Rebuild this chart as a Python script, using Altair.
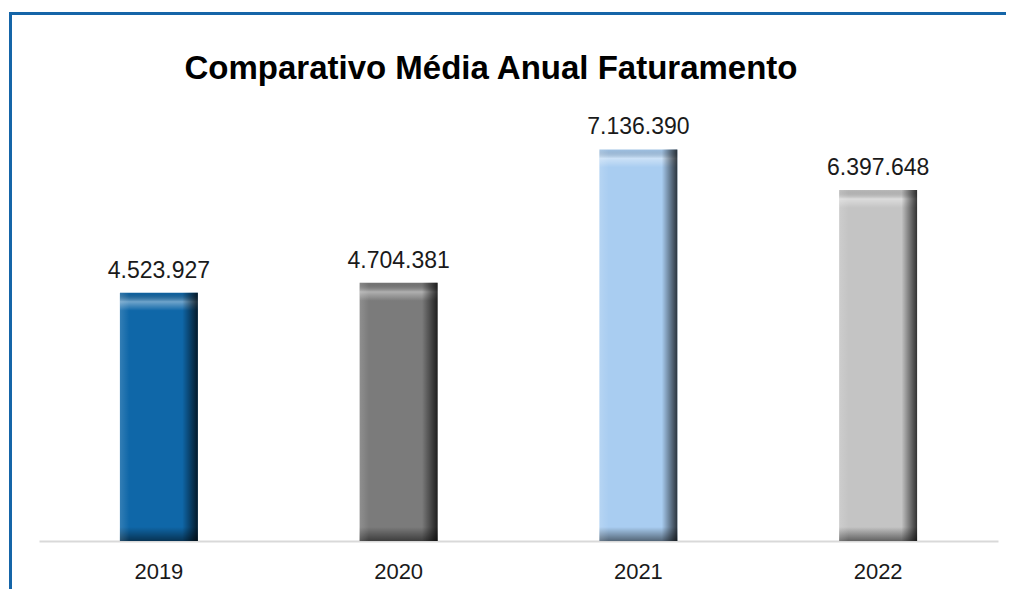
import altair as alt
import pandas as pd

years = ["2019", "2020", "2021", "2022"]
values = [4523927, 4704381, 7136390, 6397648]
colors = ["#0f67a8", "#7b7b7b", "#a9cdf1", "#c4c4c4"]
title_text = "Comparativo Média Anual Faturamento"

df = pd.DataFrame({
    "year": years,
    "value": values,
    "zero": [0] * len(years),
    "label": [f"{v:,}".replace(",", ".") for v in values],
})
single = pd.DataFrame({"t": [title_text]})

W, H = 959, 439
FONT = "Liberation Sans"

x = alt.X("year:N", sort=years,
          scale=alt.Scale(paddingInner=0.675, paddingOuter=0.3375),
          axis=alt.Axis(title=None, labelAngle=0, ticks=False, domainColor="#d9d9d9",
                        domainWidth=2, labelFont=FONT, labelFontSize=22,
                        labelColor="#1a1a1a", labelPadding=37,
                        labelBaseline="alphabetic"))
y_scale = alt.Scale(domain=[0, 8000000])
y = alt.Y("value:Q", scale=y_scale, axis=None)

base = alt.Chart(df)

bars = base.mark_bar().encode(
    x=x, y=y,
    color=alt.Color("year:N", scale=alt.Scale(domain=years, range=colors), legend=None),
)

top_bevel = base.mark_bar(
    y2Offset=18,
    color=alt.Gradient(gradient="linear", x1=0, x2=0, y1=0, y2=1, stops=[
        alt.GradientStop(offset=0, color="rgba(0,0,0,0.05)"),
        alt.GradientStop(offset=0.5, color="rgba(255,255,255,0.4)"),
        alt.GradientStop(offset=1, color="rgba(255,255,255,0)"),
    ]),
).encode(x=x, y=y, y2=alt.Y2("value:Q"))

bottom_bevel = base.mark_bar(
    yOffset=-14,
    color=alt.Gradient(gradient="linear", x1=0, x2=0, y1=0, y2=1, stops=[
        alt.GradientStop(offset=0, color="rgba(0,0,0,0)"),
        alt.GradientStop(offset=1, color="rgba(0,0,0,0.5)"),
    ]),
).encode(x=x, y=alt.Y("zero:Q", scale=y_scale, axis=None), y2=alt.Y2("zero:Q"))

side_bevel = base.mark_bar(
    color=alt.Gradient(gradient="linear", x1=0, x2=1, y1=0, y2=0, stops=[
        alt.GradientStop(offset=0, color="rgba(255,255,255,0.15)"),
        alt.GradientStop(offset=0.12, color="rgba(255,255,255,0)"),
        alt.GradientStop(offset=0.8, color="rgba(0,0,0,0)"),
        alt.GradientStop(offset=1, color="rgba(0,0,0,0.75)"),
    ]),
).encode(x=x, y=y)

labels = base.mark_text(dy=-15, baseline="alphabetic", font=FONT, fontSize=23,
                        color="#1a1a1a").encode(x=x, y=y, text="label:N")

tbase = alt.Chart(single)
title = tbase.mark_text(font=FONT, fontSize=33, fontWeight="bold", color="#000000",
                        baseline="alphabetic", align="center").encode(
    x=alt.value(452), y=alt.value(-23), text="t:N")

border_left = tbase.mark_rule(color="#1565a8", strokeWidth=3).encode(
    x=alt.value(-28.5), y=alt.value(-88), y2=alt.value(500))
border_top = tbase.mark_rule(color="#1565a8", strokeWidth=3).encode(
    x=alt.value(-30), x2=alt.value(980), y=alt.value(-88.5))

chart = alt.layer(bars, top_bevel, bottom_bevel, side_bevel, labels, title,
                  border_left, border_top).properties(
    width=W, height=H,
    autosize=alt.AutoSizeParams(type="none"),
    padding={"left": 31, "top": 94, "right": 8, "bottom": 48},
    background="white",
).configure_view(strokeWidth=0, stroke=None)

chart.save("out.html", embed_options={"renderer": "svg", "actions": False})
